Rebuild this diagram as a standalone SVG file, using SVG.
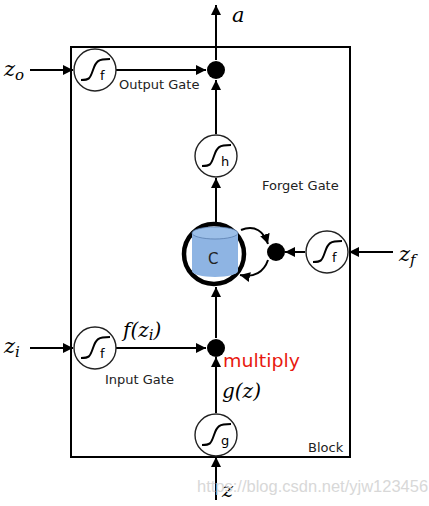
<svg xmlns="http://www.w3.org/2000/svg" xmlns:xlink="http://www.w3.org/1999/xlink" width="429" height="506" viewBox="0 0 429 506">
<style>
.ln{stroke:#000;stroke-width:2;fill:none}
.gate{fill:#fff;stroke:#222;stroke-width:1.4}
.sg{fill:none;stroke:#000;stroke-width:2}
.sub{font-family:"DejaVu Sans",sans-serif;font-size:13px;fill:#000}
.lbl{font-family:"DejaVu Sans",sans-serif;font-size:13px;fill:#222}
.math{font-family:"DejaVu Serif","Liberation Serif",serif;font-style:italic;fill:#000}
.dot{fill:#000}
</style>
<defs>
<marker id="ah" viewBox="0 0 10 10" refX="10" refY="5" markerWidth="10" markerHeight="10" markerUnits="userSpaceOnUse" orient="auto">
<path d="M0,0 L10,5 L0,10 Z" fill="#000"/>
</marker>
<g id="sig">
<path class="sg" d="M-14,10 C-6,10 -5,9 -2,0 C1,-9 3,-11 15,-11"/>
</g>
</defs>
<rect x="71" y="47" width="279" height="410" fill="none" stroke="#000" stroke-width="2"/>
<g id="connectors">
<line class="ln" x1="216" y1="60" x2="216" y2="5" marker-end="url(#ah)"/>
<line class="ln" x1="216" y1="134" x2="216" y2="80" marker-end="url(#ah)"/>
<line class="ln" x1="216" y1="222" x2="216" y2="178" marker-end="url(#ah)"/>
<line class="ln" x1="216" y1="338" x2="216" y2="287" marker-end="url(#ah)"/>
<line class="ln" x1="216" y1="413" x2="216" y2="357" marker-end="url(#ah)"/>
<line class="ln" x1="216" y1="500" x2="216" y2="457" marker-end="url(#ah)"/>
<line class="ln" x1="30" y1="70" x2="73" y2="70" marker-end="url(#ah)"/>
<line class="ln" x1="116" y1="70" x2="206" y2="70" marker-end="url(#ah)"/>
<line class="ln" x1="30" y1="348" x2="73" y2="348" marker-end="url(#ah)"/>
<line class="ln" x1="116" y1="348" x2="206" y2="348" marker-end="url(#ah)"/>
<line class="ln" x1="393" y1="252" x2="349" y2="252" marker-end="url(#ah)"/>
<line class="ln" x1="305" y1="252" x2="285" y2="252" marker-end="url(#ah)"/>
<path class="ln" d="M241,230 C255,224 264,232 268,244" marker-end="url(#ah)"/>
<path class="ln" d="M268,260 C264,272 254,278 240,275" marker-end="url(#ah)"/>
</g>
<g id="output-gate">
<circle class="gate" cx="95" cy="70" r="21"/>
<use xlink:href="#sig" href="#sig" x="95" y="70"/>
<text class="sub" x="100" y="80">f</text>
<text class="lbl" x="119" y="89">Output Gate</text>
</g>
<g id="output-mult"><circle class="dot" cx="216" cy="70" r="9"/></g>
<g id="h-gate">
<circle class="gate" cx="216" cy="156" r="21"/>
<use xlink:href="#sig" href="#sig" x="216" y="156"/>
<text class="sub" x="221" y="166">h</text>
</g>
<g id="cell">
<circle cx="214" cy="254" r="30" fill="#fff" stroke="#000" stroke-width="4.5"/>
<path d="M192,233 L192,271 A23,6 0 0 0 238,271 L238,233 Z" fill="#8eb4e3"/>
<ellipse cx="215" cy="233" rx="23" ry="6" fill="#9cbfe8" stroke="#5a7fae" stroke-width="0.8"/>
<text x="208" y="264" font-family="DejaVu Sans,sans-serif" font-size="15" fill="#222">C</text>
</g>
<g id="forget-mult"><circle class="dot" cx="276" cy="252" r="9"/></g>
<g id="forget-gate">
<circle class="gate" cx="327" cy="252" r="21"/>
<use xlink:href="#sig" href="#sig" x="327" y="252"/>
<text class="sub" x="332" y="262">f</text>
<text class="lbl" x="262" y="190">Forget Gate</text>
</g>
<g id="input-gate">
<circle class="gate" cx="95" cy="348" r="21"/>
<use xlink:href="#sig" href="#sig" x="95" y="348"/>
<text class="sub" x="100" y="358">f</text>
<text class="lbl" x="105" y="384">Input Gate</text>
</g>
<g id="input-mult">
<circle class="dot" cx="216" cy="348" r="9"/>
<text x="223" y="367" font-family="DejaVu Sans,sans-serif" font-size="17" fill="#e8190f" textLength="77" lengthAdjust="spacingAndGlyphs">multiply</text>
</g>
<g id="g-gate">
<circle class="gate" cx="216" cy="435" r="21"/>
<use xlink:href="#sig" href="#sig" x="216" y="435"/>
<text class="sub" x="221" y="445">g</text>
</g>
<g id="labels">
<text class="math" x="232" y="22" font-size="21">a</text>
<text class="math" x="4" y="76" font-size="21">z<tspan font-size="15" dy="4">o</tspan></text>
<text class="math" x="4" y="353" font-size="21">z<tspan font-size="15" dy="4">i</tspan></text>
<text class="math" x="399" y="261" font-size="21">z<tspan font-size="15" dy="4">f</tspan></text>
<text class="math" x="222" y="497" font-size="21">z</text>
<text class="math" x="123" y="337" font-size="20">f(z<tspan font-size="15" dy="3">i</tspan><tspan dy="-3">)</tspan></text>
<text class="math" x="222" y="398" font-size="20">g(z)</text>
<text x="308" y="452" font-family="DejaVu Sans,sans-serif" font-size="13" fill="#222">Block</text>
<text x="197" y="492" font-family="Liberation Sans,sans-serif" font-size="16.5" fill="#d8d8d8">https://blog.csdn.net/yjw123456</text>
</g>
</svg>
